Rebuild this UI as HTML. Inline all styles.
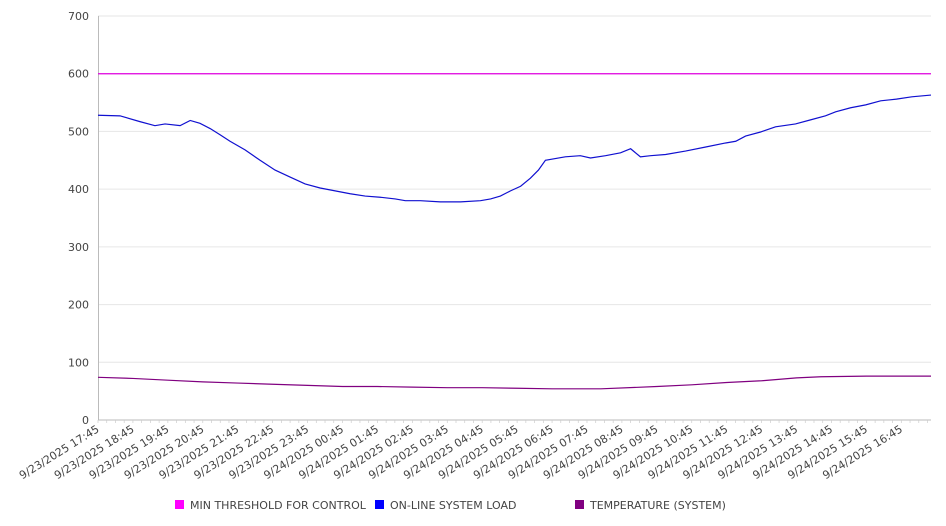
<!DOCTYPE html>
<html><head><meta charset="utf-8"><style>
body{margin:0;background:#fff;}
svg{display:block;font-family:"DejaVu Sans","Liberation Sans",sans-serif;}
</style></head><body>
<svg id="chart" width="946" height="526" viewBox="0 0 946 526"></svg>
<script>
// data
const yTicks=[0,100,200,300,400,500,600,700];
const xLabels=["9/23/2025 17:45","9/23/2025 18:45","9/23/2025 19:45","9/23/2025 20:45","9/23/2025 21:45","9/23/2025 22:45","9/23/2025 23:45","9/24/2025 00:45","9/24/2025 01:45","9/24/2025 02:45","9/24/2025 03:45","9/24/2025 04:45","9/24/2025 05:45","9/24/2025 06:45","9/24/2025 07:45","9/24/2025 08:45","9/24/2025 09:45","9/24/2025 10:45","9/24/2025 11:45","9/24/2025 12:45","9/24/2025 13:45","9/24/2025 14:45","9/24/2025 15:45","9/24/2025 16:45"];
const thresholdValue=600;
const loadHours=[0,0.63,1.2,1.63,1.92,2.35,2.64,2.92,3.21,3.5,3.78,4.21,4.64,5.07,5.5,5.93,6.36,6.79,7.22,7.65,8.08,8.51,8.8,9.23,9.8,10.38,10.95,11.24,11.52,11.81,12.1,12.38,12.61,12.81,13.38,13.81,14.1,14.53,14.96,15.25,15.53,15.82,16.25,16.82,17.4,17.97,18.26,18.54,18.97,19.4,19.97,20.4,20.83,21.12,21.55,21.98,22.41,22.86];
const loadValues=[528,527,517,510,513,510,519,514,505,494,483,468,450,433,421,409,402,397,392,388,386,383,380,380,378,378,380,383,388,397,405,419,433,450,456,458,454,458,463,470,456,458,460,466,473,480,483,492,499,508,513,520,527,534,541,546,553,556];
const loadHours2=[23.3,23.85];
const loadValues2=[560,563];
const tempHours=[0,1,2,3,4,5,6,7,8,9,10,11,12,13,14.4,16,17,18,19,20,20.7,22,23,23.85];
const tempValues=[74,72,69,66,64,62,60,58,58,57,56,56,55,54,54,58,61,65,68,73,75,76,76,76];

const NS="http://www.w3.org/2000/svg";
const svg=document.getElementById('chart');
const x0=98,x1=931,yTop=16,yBot=420,maxH=23.85;
const X=h=>x0+(h/maxH)*(x1-x0);
const Y=v=>yBot-(v/700)*(yBot-yTop);
function mk(t,a){const e=document.createElementNS(NS,t);for(const k in a)e.setAttribute(k,a[k]);svg.appendChild(e);return e;}
yTicks.forEach(v=>{
  const g=mk('line',{x1:x0,x2:x1,y1:Y(v),y2:Y(v),stroke:v===0?'#bbb':'#e6e6e6','stroke-width':1});
  
  
  const t=mk('text',{x:89,y:Y(v)+4,'text-anchor':'end','font-size':11,fill:'#444'});
  t.textContent=v;
  
  
});
const ax=mk('line',{x1:x0+0.5,x2:x0+0.5,y1:yTop,y2:yBot,stroke:'#bbb'});


for(let h=0;h<=maxH;h+=0.25){
  const m=mk('line',{x1:X(h),x2:X(h),y1:yBot,y2:yBot+3,stroke:'#ccc','stroke-width':0.7});
  
  
}
xLabels.forEach((s,i)=>{
  const xx=X(i)+2,yy=yBot+11;
  const t=mk('text',{x:xx,y:yy,'text-anchor':'end','font-size':11,fill:'#444',transform:`rotate(-32 ${xx} ${yy})`});
  t.textContent=s;
  
  
});
const th=mk('line',{x1:x0,x2:x1,y1:Y(thresholdValue),y2:Y(thresholdValue),stroke:'#e000e0','stroke-width':1.2});


const hs=loadHours.concat(loadHours2),vs=loadValues.concat(loadValues2);
const lp=mk('polyline',{points:hs.map((h,i)=>X(h)+','+Y(vs[i])).join(' '),fill:'none',stroke:'#1010d0','stroke-width':1.2});


const tp=mk('polyline',{points:tempHours.map((h,i)=>X(h)+','+Y(tempValues[i])).join(' '),fill:'none',stroke:'#800080','stroke-width':1.2});


const leg=[["MIN THRESHOLD FOR CONTROL","#ff00ff",175],["ON-LINE SYSTEM LOAD","#0000ff",375],["TEMPERATURE (SYSTEM)","#800080",575]];
leg.forEach(l=>{
  const r=mk('rect',{x:l[2],y:500,width:9,height:9,fill:l[1]});
  
  
  const t=mk('text',{x:l[2]+15,y:509,'font-size':11,fill:'#444'});
  t.textContent=l[0];
  
  
});
</script>
</body></html>
